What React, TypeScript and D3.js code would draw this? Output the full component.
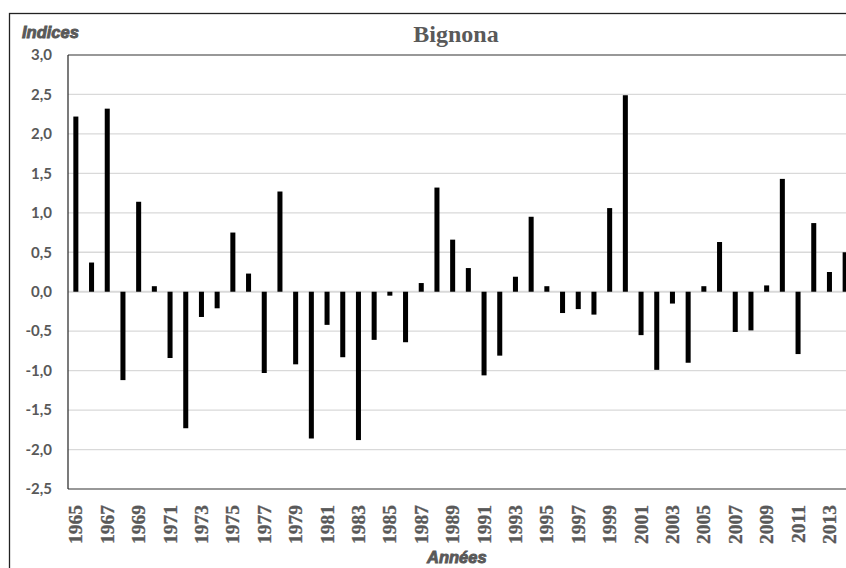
import * as d3 from 'd3';

// Bignona index per year
const years = d3.range(1965, 2015).map(String);
const indices = [
  2.22, 0.37, 2.32, -1.12, 1.14, 0.07, -0.84, -1.73, -0.32, -0.21,
  0.75, 0.23, -1.03, 1.27, -0.92, -1.86, -0.42, -0.83, -1.88, -0.61,
  -0.05, -0.64, 0.11, 1.32, 0.66, 0.3, -1.06, -0.81, 0.19, 0.95,
  0.07, -0.27, -0.22, -0.29, 1.06, 2.49, -0.55, -0.99, -0.15, -0.9,
  0.07, 0.63, -0.51, -0.49, 0.08, 1.43, -0.79, 0.87, 0.25, 0.5,
];
const yTicks = [3, 2.5, 2, 1.5, 1, 0.5, 0, -0.5, -1, -1.5, -2, -2.5];
const labelYears = years.filter((_, i) => i % 2 === 0);

const W = 846;
const H = 568;
const plot = { left: 68, top: 55, bottom: 489, right: 68 + 50 * 15.7 };
const grey = '#595959';

const fmt = (v: number) => v.toFixed(1).replace('.', ',');

export default function App() {
  const x = d3.scaleBand<string>()
    .domain(years)
    .range([plot.left, plot.right])
    .paddingInner(0.68)
    .paddingOuter(0.34);

  const y = d3.scaleLinear().domain([-2.5, 3]).range([plot.bottom, plot.top]);

  // the axis titles are set in a very heavy italic; fake it with a stroke
  const heavy = {
    fill: grey,
    stroke: grey,
    strokeWidth: 0.9,
    fontFamily: 'Liberation Sans, Arial, sans-serif',
    fontWeight: 'bold',
    fontStyle: 'italic',
    fontSize: 16.5,
  } as const;

  return (
    <svg
      width={W}
      height={H}
      style={{ position: 'absolute', left: 0, top: 0, background: '#fff' }}
    >
      {/* chart frame, runs off the right and bottom edges */}
      <rect x={9.5} y={13.5} width={W + 20} height={H + 20} fill="#fff" stroke="#222" strokeWidth={1.3} />

      <text x={22} y={38} {...heavy}>Indices</text>
      <text x={456} y={42} textAnchor="middle" fill={grey}
        fontFamily="Liberation Serif, Times New Roman, serif" fontWeight="bold" fontSize={24}>Bignona</text>

      {yTicks.map((t) => (
        <g key={t}>
          {t !== 3 && t !== -2.5 && (
            <line x1={plot.left} x2={W} y1={y(t)} y2={y(t)}
              stroke="#d9d9d9" strokeWidth={t === 0 ? 2 : 1.3} />
          )}
          <text x={52} y={y(t)} dy="0.35em" textAnchor="end" fill={grey}
            fontFamily="Lato, Open Sans, sans-serif" fontWeight="bold" fontSize={15}>{fmt(t)}</text>
        </g>
      ))}

      {/* plot area border */}
      <line x1={plot.left} x2={W} y1={plot.top} y2={plot.top} stroke="#333" strokeWidth={1.2} />
      <line x1={plot.left} x2={W} y1={plot.bottom} y2={plot.bottom} stroke="#333" strokeWidth={1.2} />
      <line x1={plot.left} x2={plot.left} y1={plot.top} y2={plot.bottom} stroke="#222" strokeWidth={1.2} />

      {years.map((yr, i) => {
        const v = indices[i];
        return (
          <rect key={yr} x={x(yr)} width={x.bandwidth()}
            y={y(Math.max(0, v))} height={Math.abs(y(v) - y(0))} fill="#000" />
        );
      })}

      {labelYears.map((yr) => (
        <text key={yr}
          transform={`translate(${(x(yr) ?? 0) + x.bandwidth() / 2 + 6.5},505) rotate(-90)`}
          textAnchor="end" fill={grey} stroke={grey} strokeWidth={0.3}
          fontFamily="Liberation Serif, Times New Roman, serif" fontWeight="bold" fontSize={19.5}>{yr}</text>
      ))}

      <text x={427} y={563} {...heavy}>Années</text>
    </svg>
  );
}
